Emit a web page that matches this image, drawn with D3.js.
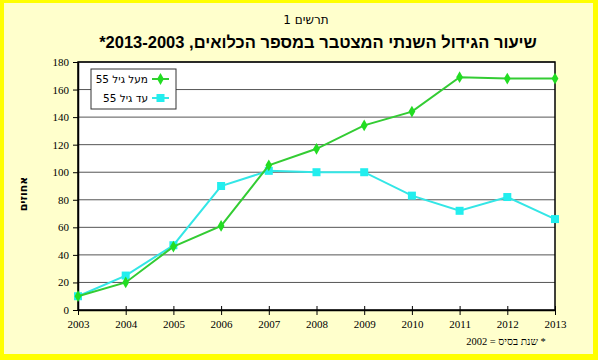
<!DOCTYPE html>
<html lang="he">
<head>
<meta charset="UTF-8">
<title>תרשים 1</title>
<script src="https://cdn.jsdelivr.net/npm/d3@7"></script>
<style>
  body { margin: 0; background: #fff; }
  svg { display: block; }
</style>
</head>
<body>
<svg width="598" height="360"></svg>
<script>
// נתונים
const years = [2003, 2004, 2005, 2006, 2007, 2008, 2009, 2010, 2011, 2012, 2013]
const over55 = [10, 20, 46, 61, 105, 117, 134, 144, 169, 168, 168]
const under55 = [10, 25, 47, 90, 101, 100, 100, 83, 72, 82, 66]
const yTicks = [0, 20, 40, 60, 80, 100, 120, 140, 160, 180]
const seriesNames = ['מעל גיל 55', 'עד גיל 55']

const svg = d3.select('svg')
const W = 598, H = 360
const m = { left: 78, right: 555, top: 62, bottom: 310 }

// רקע ומסגרת צהובה
svg.append('rect').attr('x', 0).attr('y', 0).attr('width', W).attr('height', H).attr('fill', '#ffff00')
svg.append('rect').attr('x', 4).attr('y', 3).attr('width', W - 9).attr('height', H - 9).attr('fill', '#ffffcc')

const x = d3.scaleLinear().domain([2003, 2013]).range([m.left, m.right])
const y = d3.scaleLinear().domain([0, 180]).range([m.bottom, m.top])

svg.append('rect')
  .attr('x', m.left).attr('y', m.top)
  .attr('width', m.right - m.left).attr('height', m.bottom - m.top)
  .attr('fill', '#fff')

// קווי רשת
svg.append('g').selectAll('line').data(yTicks.slice(1)).enter().append('line')
  .attr('x1', m.left).attr('x2', m.right)
  .attr('y1', d => y(d)).attr('y2', d => y(d))
  .attr('stroke', '#555').attr('stroke-width', 1)

svg.append('rect')
  .attr('x', m.left).attr('y', m.top)
  .attr('width', m.right - m.left).attr('height', m.bottom - m.top)
  .attr('fill', 'none').attr('stroke', '#000').attr('stroke-width', 1.5)

// צירים
const xAxis = svg.append('g').attr('transform', `translate(0,${m.bottom})`)
  .call(d3.axisBottom(x).tickValues(years).tickFormat(d3.format('d')).tickSizeInner(5).tickSizeOuter(0).tickPadding(5))
const yAxis = svg.append('g').attr('transform', `translate(${m.left},0)`)
  .call(d3.axisLeft(y).tickValues(yTicks).tickSizeInner(5).tickSizeOuter(0).tickPadding(4))
;[xAxis, yAxis].forEach(g => {
  g.select('.domain').attr('stroke', '#000').attr('stroke-width', 1.5)
  g.selectAll('.tick line').attr('stroke', '#000')
  g.selectAll('.tick text').attr('font-family', 'Liberation Serif, serif').attr('font-size', 11).attr('fill', '#000')
})
xAxis.selectAll('.tick line').attr('y1', -4).attr('y2', 5)

const line = d3.line().x((d, i) => x(years[i])).y(d => y(d))

// עד גיל 55
svg.append('path').datum(under55).attr('d', line)
  .attr('fill', 'none').attr('stroke', '#33e6e6').attr('stroke-width', 2)
svg.append('g').selectAll('rect').data(under55).enter().append('rect')
  .attr('x', (d, i) => x(years[i]) - 4).attr('y', d => y(d) - 4)
  .attr('width', 8).attr('height', 8).attr('fill', '#22eeee')

// מעל גיל 55
svg.append('path').datum(over55).attr('d', line)
  .attr('fill', 'none').attr('stroke', '#33cc33').attr('stroke-width', 2)
svg.append('g').selectAll('path').data(over55).enter().append('path')
  .attr('d', d3.symbol(d3.symbolDiamond, 40))
  .attr('transform', (d, i) => `translate(${x(years[i])},${y(d)})`)
  .attr('fill', '#22dd22')

// מקרא
const leg = svg.append('g').attr('transform', 'translate(91,69)')
leg.append('rect').attr('width', 85).attr('height', 40).attr('fill', '#fff').attr('stroke', '#333')
const legColors = ['#33cc33', '#33e6e6']
seriesNames.forEach((name, i) => {
  const ly = 10 + i * 19
  leg.append('line').attr('x1', 61).attr('x2', 78).attr('y1', ly).attr('y2', ly)
    .attr('stroke', legColors[i]).attr('stroke-width', 2)
  if (i === 0) {
    leg.append('path').attr('d', d3.symbol(d3.symbolDiamond, 40)).attr('transform', `translate(69.5,${ly})`).attr('fill', '#22dd22')
  } else {
    leg.append('rect').attr('x', 65.5).attr('y', ly - 4).attr('width', 8).attr('height', 8).attr('fill', '#22eeee')
  }
  leg.append('text').attr('x', 57).attr('y', ly + 4).attr('text-anchor', 'end')
    .attr('font-family', 'DejaVu Sans, sans-serif').attr('font-size', 10.5).text(name)
})

// כותרות
svg.append('text').attr('x', 306).attr('y', 24).attr('text-anchor', 'middle')
  .attr('font-family', 'DejaVu Sans, sans-serif').attr('font-size', 12).text('תרשים 1')
svg.append('text').attr('x', 318).attr('y', 48).attr('text-anchor', 'middle')
  .attr('font-family', 'Liberation Sans, Arial, sans-serif').attr('font-weight', 'bold').attr('font-size', 16.5)
  .attr('direction', 'rtl')
  .text('שיעור הגידול השנתי המצטבר במספר הכלואים, 2013-2003*')

svg.append('text').attr('transform', 'translate(27,194) rotate(-90)').attr('text-anchor', 'middle')
  .attr('font-family', 'DejaVu Sans, sans-serif').attr('font-weight', 'bold').attr('font-size', 11).text('אחוזים')

svg.append('text').attr('x', 506).attr('y', 345).attr('text-anchor', 'middle').attr('direction', 'rtl')
  .attr('font-family', 'Liberation Serif, serif').attr('font-size', 10.5).text('* שנת בסיס = 2002')
</script>
</body>
</html>
